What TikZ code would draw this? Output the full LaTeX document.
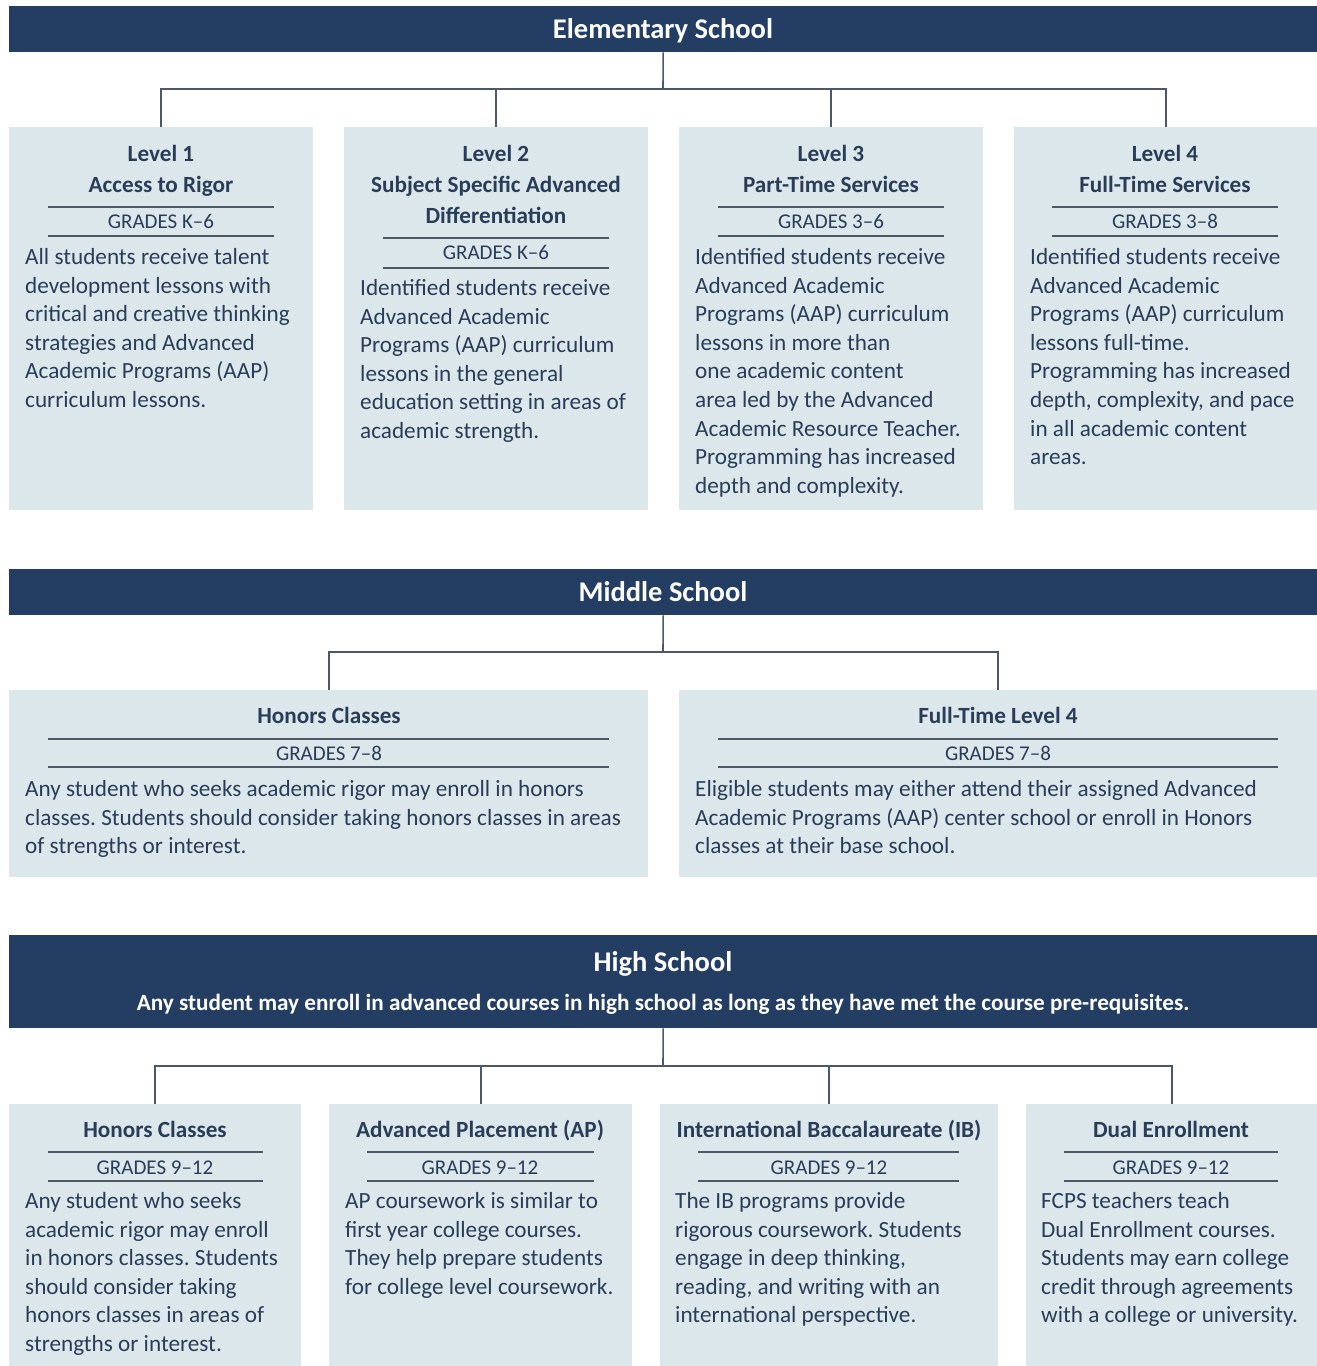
\documentclass[tikz,border=0pt]{standalone}
\usepackage{fontspec}
\setmainfont{Carlito}
\frenchspacing
\definecolor{navy}{HTML}{233E62}
\definecolor{boxfill}{HTML}{DCE7EC}
\definecolor{ink}{HTML}{2A3D58}
\definecolor{linec}{HTML}{4C5866}
\begin{document}
\begin{tikzpicture}[x=1pt,y=-1pt,
  header/.style={fill=navy, draw=none, inner sep=0, anchor=north west},
  hdtext/.style={text=white, font=\bfseries\fontsize{28.5}{32}\selectfont, anchor=base, inner sep=0},
  hdsub/.style={text=white, font=\bfseries\fontsize{23.2}{26}\selectfont, anchor=base, inner sep=0},
  card/.style={fill=boxfill, draw=none, inner sep=0, anchor=north west},
  ttl/.style={font=\bfseries\fontsize{23.2}{30.6}\selectfont, text=ink, align=center, anchor=base, inner sep=0},
  grd/.style={font=\fontsize{21}{24}\selectfont, text=ink, anchor=base, inner sep=0},
  body/.style={font=\fontsize{23.2}{28.6}\selectfont, text=ink, align=left, anchor=base west, inner sep=0},
  rulel/.style={draw=linec, line width=1.2pt},
  conn/.style={draw=linec, line width=1.6pt}
]
\useasboundingbox (0,0) rectangle (1317,1366);
\fill[white] (0,0) rectangle (1317,1366);

%% ---------------- Elementary ----------------
\node[header, minimum width=1308pt, minimum height=46pt] (eh) at (9,6) {};
\node[hdtext] (eht) at (663,38) {Elementary School};

\node[card, minimum width=304pt, minimum height=383pt] (e1) at (9,127) {};
\node[card, minimum width=304pt, minimum height=383pt] (e2) at (344,127) {};
\node[card, minimum width=304pt, minimum height=383pt] (e3) at (679,127) {};
\node[card, minimum width=304pt, minimum height=383pt] (e4) at (1014,127) {};

\coordinate (ebus) at (663,89);
\draw[conn] (eh.south) -- (ebus);
\draw[conn] (ebus) -| (e1.north);
\draw[conn] (ebus) -| (e2.north);
\draw[conn] (ebus) -| (e3.north);
\draw[conn] (ebus) -| (e4.north);

% (multi-line nodes are anchored at the baseline of their last line)
\node[ttl] (e1t) at (161,192) {Level 1\\Access to Rigor};
\draw[rulel] (48,207) -- (274,207);
\node[grd] (e1g) at (161,228) {GRADES K–6};
\draw[rulel] (48,236) -- (274,236);
\node[body] (e1x) at (25,407.5) {All students receive talent\\development lessons with\\critical and creative thinking\\strategies and Advanced\\Academic Programs (AAP)\\curriculum lessons.};

\node[ttl] (e2t) at (496,223) {Level 2\\Subject Specific Advanced\\Differentiation};
\draw[rulel] (383,238) -- (609,238);
\node[grd] (e2g) at (496,259) {GRADES K–6};
\draw[rulel] (383,268) -- (609,268);
\node[body] (e2x) at (360,438.5) {Identified students receive\\Advanced Academic\\Programs (AAP) curriculum\\lessons in the general\\education setting in areas of\\academic strength.};

\node[ttl] (e3t) at (831,192) {Level 3\\Part-Time Services};
\draw[rulel] (718,207) -- (944,207);
\node[grd] (e3g) at (831,228) {GRADES 3–6};
\draw[rulel] (718,236) -- (944,236);
\node[body] (e3x) at (695,493.3) {Identified students receive\\Advanced Academic\\Programs (AAP) curriculum\\lessons in more than\\one academic content\\area led by the Advanced\\Academic Resource Teacher.\\Programming has increased\\depth and complexity.};

\node[ttl] (e4t) at (1165,192) {Level 4\\Full-Time Services};
\draw[rulel] (1052,207) -- (1278,207);
\node[grd] (e4g) at (1165,228) {GRADES 3–8};
\draw[rulel] (1052,236) -- (1278,236);
\node[body] (e4x) at (1030,464.7) {Identified students receive\\Advanced Academic\\Programs (AAP) curriculum\\lessons full-time.\\Programming has increased\\depth, complexity, and pace\\in all academic content\\areas.};

%% ---------------- Middle ----------------
\node[header, minimum width=1308pt, minimum height=46pt] (mh) at (9,569) {};
\node[hdtext] (mht) at (663,601) {Middle School};

\node[card, minimum width=639pt, minimum height=187pt] (m1) at (9,690) {};
\node[card, minimum width=638pt, minimum height=187pt] (m2) at (679,690) {};

\coordinate (mbus) at (663,652);
\draw[conn] (mh.south) -- (mbus);
\draw[conn] (mbus) -| (m1.north);
\draw[conn] (mbus) -| (m2.north);

\node[ttl] (m1t) at (329,723) {Honors Classes};
\draw[rulel] (48,739) -- (609,739);
\node[grd] (m1g) at (329,760) {GRADES 7–8};
\draw[rulel] (48,767) -- (609,767);
\node[body] (m1x) at (25,853.7) {Any student who seeks academic rigor may enroll in honors\\classes. Students should consider taking honors classes in areas\\of strengths or interest.};

\node[ttl] (m2t) at (998,723) {Full-Time Level 4};
\draw[rulel] (718,739) -- (1278,739);
\node[grd] (m2g) at (998,760) {GRADES 7–8};
\draw[rulel] (718,767) -- (1278,767);
\node[body] (m2x) at (695,853.7) {Eligible students may either attend their assigned Advanced\\Academic Programs (AAP) center school or enroll in Honors\\classes at their base school.};

%% ---------------- High ----------------
\node[header, minimum width=1308pt, minimum height=93pt] (hh) at (9,935) {};
\node[hdtext] (hht) at (663,971) {High School};
\node[hdsub] (hhs) at (663,1010) {Any student may enroll in advanced courses in high school as long as they have met the course pre-requisites.};

\node[card, minimum width=292pt, minimum height=262pt] (h1) at (9,1104) {};
\node[card, minimum width=303pt, minimum height=262pt] (h2) at (329,1104) {};
\node[card, minimum width=338pt, minimum height=262pt] (h3) at (660,1104) {};
\node[card, minimum width=291pt, minimum height=262pt] (h4) at (1026,1104) {};

\coordinate (hbus) at (663,1066);
\draw[conn] (hh.south) -- (hbus);
\draw[conn] (hbus) -| (h1.north);
\draw[conn] (hbus) -| (h2.north);
\draw[conn] (hbus) -| (h3.north);
\draw[conn] (hbus) -| (h4.north);

\node[ttl] (h1t) at (155,1137) {Honors Classes};
\draw[rulel] (48,1152) -- (263,1152);
\node[grd] (h1g) at (155,1174) {GRADES 9–12};
\draw[rulel] (48,1181) -- (263,1181);
\node[body] (h1x) at (25,1351.5) {Any student who seeks\\academic rigor may enroll\\in honors classes. Students\\should consider taking\\honors classes in areas of\\strengths or interest.};

\node[ttl] (h2t) at (480,1137) {Advanced Placement (AP)};
\draw[rulel] (367,1152) -- (594,1152);
\node[grd] (h2g) at (480,1174) {GRADES 9–12};
\draw[rulel] (367,1181) -- (594,1181);
\node[body] (h2x) at (345,1294.3) {AP coursework is similar to\\first year college courses.\\They help prepare students\\for college level coursework.};

\node[ttl] (h3t) at (829,1137) {International Baccalaureate (IB)};
\draw[rulel] (698,1152) -- (959,1152);
\node[grd] (h3g) at (829,1174) {GRADES 9–12};
\draw[rulel] (698,1181) -- (959,1181);
\node[body] (h3x) at (675,1322.9) {The IB programs provide\\rigorous coursework. Students\\engage in deep thinking,\\reading, and writing with an\\international perspective.};

\node[ttl] (h4t) at (1171,1137) {Dual Enrollment};
\draw[rulel] (1064,1152) -- (1278,1152);
\node[grd] (h4g) at (1171,1174) {GRADES 9–12};
\draw[rulel] (1064,1181) -- (1278,1181);
\node[body] (h4x) at (1041,1322.9) {FCPS teachers teach\\Dual Enrollment courses.\\Students may earn college\\credit through agreements\\with a college or university.};
\end{tikzpicture}
\end{document}
